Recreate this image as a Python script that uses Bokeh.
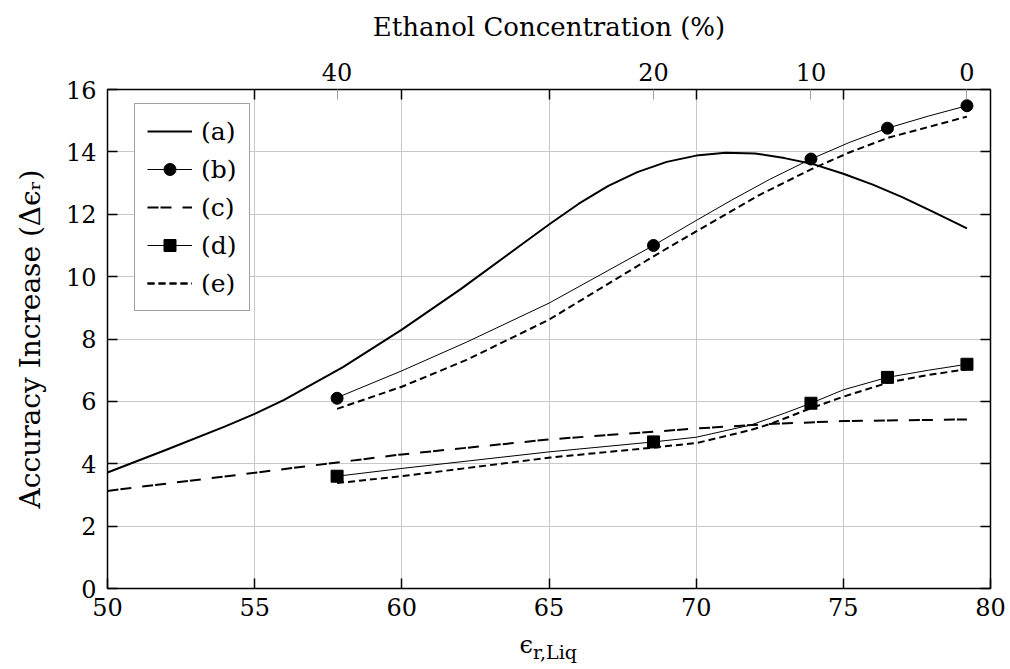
import math
from bokeh.plotting import figure
from bokeh.models import (Range1d, LinearAxis, FixedTicker, Legend, LegendItem)
from bokeh.embed import file_html
from bokeh.resources import INLINE

# ---------------- data ----------------
# measurement points (liquid permittivity) and the matching ethanol concentration
eps_meas = [57.8, 68.55, 73.9, 76.5, 79.2]
ethanol_pct = [40, 20, 10, 5, 0]
top_tick_eps = [57.8, 68.55, 73.9, 79.2]
top_tick_labels = ["40", "20", "10", "0"]

# (a) solid thick curve
a_x = [50, 52, 54, 55, 56, 58, 60, 62, 64, 65, 66, 67, 68, 69, 70, 71, 72, 73, 74, 75, 76, 77, 78, 79.2]
a_y = [3.72, 4.45, 5.2, 5.6, 6.05, 7.1, 8.3, 9.6, 10.98, 11.67, 12.33, 12.9, 13.35, 13.68, 13.88,
       13.97, 13.95, 13.8, 13.6, 13.3, 12.95, 12.55, 12.1, 11.55]

# (b) thin line with circle markers
b_x = [57.8, 60, 62.2, 65, 68.55, 70, 71.2, 72.5, 73.9, 75.2, 76.5, 77.9, 79.2]
b_y = [6.12, 6.98, 7.9, 9.15, 11.0, 11.8, 12.45, 13.12, 13.77, 14.3, 14.76, 15.15, 15.48]
b_meas = [6.1, 11.0, 13.77, 14.76, 15.48]

# (c) long dashed curve
c_x = [50, 55, 58.3, 60, 65, 70, 72.4, 75, 79.2]
c_y = [3.13, 3.71, 4.1, 4.3, 4.78, 5.13, 5.27, 5.37, 5.42]

# (d) thin line with square markers
d_x = [57.8, 60, 65, 68.55, 70, 71.85, 73.0, 73.9, 75.0, 76.5, 77.9, 79.2]
d_y = [3.6, 3.85, 4.38, 4.7, 4.85, 5.24, 5.62, 5.94, 6.37, 6.77, 7.0, 7.19]
d_meas = [3.6, 4.7, 5.94, 6.77, 7.19]

# (e) short dashed curves (upper and lower)
e1_x = [57.8, 60, 62.2, 65, 68.55, 70, 72.07, 73.9, 75.2, 76.55, 77.9, 79.2]
e1_y = [5.76, 6.47, 7.33, 8.62, 10.65, 11.45, 12.58, 13.44, 13.98, 14.46, 14.8, 15.13]
e2_x = [57.8, 60, 65.05, 68.56, 70.04, 71.85, 72.5, 73.9, 75.0, 76.55, 77.9, 79.2]
e2_y = [3.38, 3.6, 4.2, 4.52, 4.67, 5.08, 5.27, 5.78, 6.15, 6.61, 6.85, 7.03]

x_ticks = [50, 55, 60, 65, 70, 75, 80]
y_ticks = [0, 2, 4, 6, 8, 10, 12, 14, 16]

# ---------------- figure ----------------
FONT = "DejaVu Serif"
TICK_FS = "24px"
LABEL_FS = "26px"
GRID = "#c8c8c8"
NBSP = "\u00a0"

FW, FH = 883, 499
XMIN, XMAX, YMIN, YMAX = 50, 80, 0, 16

p = figure(frame_width=FW, frame_height=FH,
           x_range=Range1d(XMIN, XMAX), y_range=Range1d(YMIN, YMAX),
           output_backend="svg", toolbar_location=None,
           min_border_left=107, min_border_right=18, min_border_top=89, min_border_bottom=0)
p.background_fill_color = "white"
p.border_fill_color = "white"
p.outline_line_color = "black"
p.outline_line_width = 1.5

xt = FixedTicker(ticks=x_ticks)
yt = FixedTicker(ticks=y_ticks)
p.xaxis.ticker = xt
p.yaxis.ticker = yt
p.xgrid.ticker = xt
p.ygrid.ticker = yt
p.xgrid.grid_line_color = GRID
p.ygrid.grid_line_color = GRID


def style_axis(ax, standoff):
    ax.axis_line_color = None
    ax.major_tick_in = 10
    ax.major_tick_out = 0
    ax.minor_tick_in = 0
    ax.minor_tick_out = 0
    ax.major_tick_line_color = "black"
    ax.major_tick_line_width = 1.5
    ax.major_label_text_font = FONT
    ax.major_label_text_font_size = TICK_FS
    ax.major_label_text_color = "black"
    ax.major_label_standoff = standoff
    ax.axis_label_text_font = FONT
    ax.axis_label_text_font_size = LABEL_FS
    ax.axis_label_text_font_style = "normal"
    ax.axis_label_text_color = "black"


xax = p.xaxis[0]
style_axis(xax, 9)
xax.axis_label = "ϵ" + NBSP * 6
xax.axis_label_text_font_size = "24px"
xax.axis_label_standoff = 12

# subscript of the x title on a tick-less second bottom axis
xsub = LinearAxis(ticker=FixedTicker(ticks=[]))
style_axis(xsub, 0)
xsub.major_tick_in = 0
xsub.axis_label = NBSP * 2 + "r,Liq"
xsub.axis_label_text_font_size = "19px"
xsub.axis_label_standoff = -21
p.add_layout(xsub, "below")

yax = p.yaxis[0]
style_axis(yax, 11)
yax.axis_label = "Accuracy Increase (Δϵᵣ)"
yax.axis_label_text_font_size = "28px"
yax.axis_label_standoff = 16

# right mirrored axis (ticks only)
rax = LinearAxis(ticker=FixedTicker(ticks=y_ticks))
style_axis(rax, 0)
rax.major_label_overrides = {v: "" for v in y_ticks}
p.add_layout(rax, "right")

# top axis: ethanol concentration (grey ticks) + mirrored black ticks as minor ticks
tax = LinearAxis(ticker=FixedTicker(ticks=top_tick_eps, minor_ticks=x_ticks[1:-1]))
style_axis(tax, 9)
tax.major_tick_line_color = "#a0a0a0"
tax.major_tick_line_width = 1
tax.minor_tick_in = 10
tax.minor_tick_out = 0
tax.minor_tick_line_color = "black"
tax.minor_tick_line_width = 1.5
tax.major_label_overrides = {v: t for v, t in zip(top_tick_eps, top_tick_labels)}
tax.axis_label = "Ethanol Concentration (%)"
tax.axis_label_standoff = 18
p.add_layout(tax, "above")

# ---------------- series ----------------
ra = p.line(a_x, a_y, line_color="black", line_width=2)
rb = p.line(b_x, b_y, line_color="black", line_width=1)
rbm = p.scatter(eps_meas, b_meas, marker="circle", size=12, fill_color="black", line_color="black")
rc = p.line(c_x, c_y, line_color="black", line_width=2, line_dash="11 2 11 11")
rd = p.line(d_x, d_y, line_color="black", line_width=1)
rdm = p.scatter(eps_meas, d_meas, marker="square", size=12, fill_color="black", line_color="black")
re1 = p.line(e1_x, e1_y, line_color="black", line_width=2, line_dash="7 4")
re2 = p.line(e2_x, e2_y, line_color="black", line_width=2, line_dash="7 4")

legend = Legend(items=[
    LegendItem(label="(a)", renderers=[ra]),
    LegendItem(label="(b)", renderers=[rb, rbm]),
    LegendItem(label="(c)", renderers=[rc]),
    LegendItem(label="(d)", renderers=[rd, rdm]),
    LegendItem(label="(e)", renderers=[re1, re2]),
], location=(27, 277))
legend.glyph_width = 45
legend.glyph_height = 30
legend.label_height = 30
legend.spacing = 8
legend.padding = 12
legend.margin = 0
legend.label_standoff = 9
legend.label_text_font = FONT
legend.label_text_font_size = "25px"
legend.label_text_color = "black"
legend.border_line_color = "#444444"
legend.border_line_width = 1.3
legend.background_fill_color = "white"
legend.background_fill_alpha = 1.0
p.add_layout(legend)

open("out.html", "w").write(file_html(p, INLINE))
